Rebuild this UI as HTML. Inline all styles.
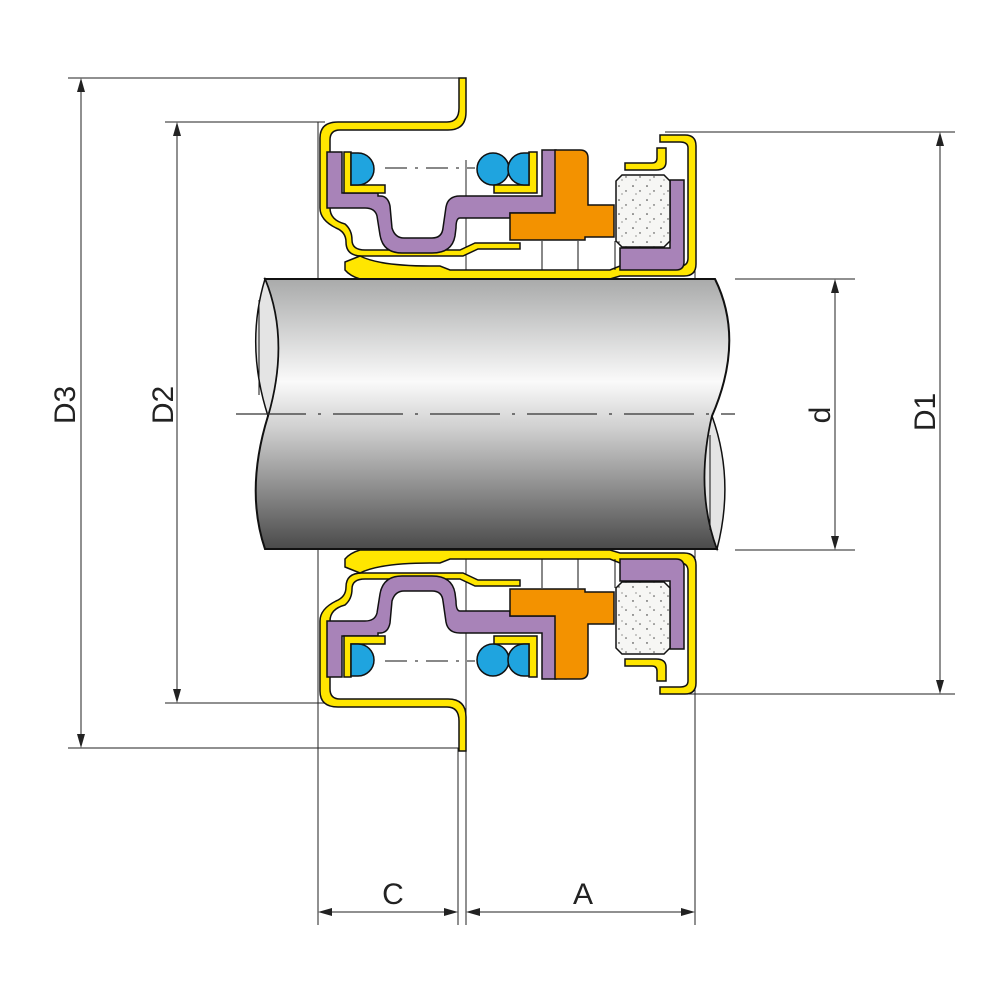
<!DOCTYPE html>
<html><head><meta charset="utf-8"><style>html,body{margin:0;padding:0;background:#fff}svg{display:block}</style></head>
<body>
<svg width="1000" height="1000" viewBox="0 0 1000 1000" xmlns="http://www.w3.org/2000/svg">
<defs>
<linearGradient id="sh" x1="0" y1="0" x2="0" y2="1">
<stop offset="0" stop-color="#a9aaaa"/>
<stop offset="0.38" stop-color="#fafafa"/>
<stop offset="0.55" stop-color="#d0d0d0"/>
<stop offset="1" stop-color="#4a4a4a"/>
</linearGradient>
<pattern id="dots" width="14" height="14" patternUnits="userSpaceOnUse">
<rect width="14" height="14" fill="#f6f6f4"/>
<circle cx="3" cy="4" r="0.8" fill="#333"/><circle cx="10" cy="9" r="0.7" fill="#333"/><circle cx="6" cy="12" r="0.6" fill="#555"/>
</pattern>
<g id="half" stroke="#111" stroke-width="1.5">
<!-- gland yellow -->
<path d="M459 78 L466 78 L466 112 Q466 130 448 130 L340 130 Q330 130 330 140 L330 208 Q330 220 345 224 Q352 230 352 240 Q352 250 365 250 L460 250 L475 243 L520 243 L520 249 L478 249 L463 256 L362 256 Q346 256 346 242 Q346 232 336 228 Q320 220 320 208 L320 138 Q320 122 338 122 L447 122 Q459 122 459 108 Z" fill="#ffe600"/>
<!-- inner sleeve yellow -->
<path d="M345 262 L360 256 Q380 266 430 266 L440 266 L450 270 L610 270 L620 266 L680 266 Q688 266 688 258 L688 148 Q688 142 680 142 L660 142 L660 135 L685 135 Q696 135 696 146 L696 264 Q696 276 684 276 L620 276 L610 279 L360 279 Q350 276 345 270 Z" fill="#ffe600"/>
<!-- purple -->
<path d="M327 152 L342 152 L342 193 L378 193 L378 196 L380 196 Q388 196 390 206 L392 228 Q395 238 404 238 L432 238 Q442 238 443 228 L446 207 Q448 196 460 196 L542 196 L542 150 L556 150 L556 213 L510 213 L510 218 L460 218 Q456 218 456 228 L455 236 Q452 253 432 253 L402 253 Q383 253 380 235 L377 216 Q375 208 365 208 L327 208 Z" fill="#a883b8"/>
<path d="M620 270 L620 248 L670 248 L670 180 L684 180 L684 262 Q684 270 676 270 Z" fill="#a883b8"/>
<!-- small yellow cups -->
<path d="M344 152 L351 152 L351 185 L385 185 L385 193 L344 193 Z" fill="#ffe600"/>
<path d="M494 185 L529 185 L529 152 L537 152 L537 193 L494 193 Z" fill="#ffe600"/>
<!-- blue o-rings -->
<path d="M351 153 L358 153 A16 16 0 0 1 358 185 L351 185 Z" fill="#1fa4df"/>
<circle cx="493" cy="169" r="16" fill="#1fa4df"/>
<path d="M529 153 L524 153 A16 16 0 0 0 524 185 L529 185 Z" fill="#1fa4df"/>
<line x1="385" y1="168" x2="475" y2="168" stroke-dasharray="22 8 3 8" stroke-width="1"/>
<!-- orange -->
<path d="M555 150 L580 150 Q588 150 588 158 L588 205 L614 205 L614 237 L585 237 L585 240 L510 240 L510 213 L555 213 Z" fill="#f39200"/>
<!-- stone -->
<path d="M622 175 L664 175 L670 181 L670 241 L664 247 L622 247 L616 241 L616 181 Z" fill="url(#dots)"/>
<!-- face yellow -->
<path d="M625 163 L652 163 Q657 163 657 158 L657 148 L666 148 L666 162 Q666 170 656 170 L625 170 Z" fill="#ffe600"/>
<line x1="542" y1="241" x2="542" y2="270" stroke-width="1"/>
<line x1="578" y1="241" x2="578" y2="270" stroke-width="1"/>
<line x1="615" y1="241" x2="615" y2="270" stroke-width="1"/>
</g>
</defs>

<!-- dimension/extension lines -->
<g stroke="#222" stroke-width="1" fill="none">
<line x1="68" y1="78" x2="460" y2="78"/>
<line x1="68" y1="748" x2="460" y2="748"/>
<line x1="165" y1="122" x2="325" y2="122"/>
<line x1="165" y1="703" x2="325" y2="703"/>
<line x1="665" y1="132" x2="955" y2="132"/>
<line x1="665" y1="694" x2="955" y2="694"/>
<line x1="735" y1="279" x2="855" y2="279"/>
<line x1="735" y1="550" x2="855" y2="550"/>
<line x1="81" y1="80" x2="81" y2="746"/>
<line x1="177" y1="124" x2="177" y2="701"/>
<line x1="835" y1="281" x2="835" y2="548"/>
<line x1="940" y1="134" x2="940" y2="692"/>
<line x1="318" y1="122" x2="318" y2="925"/>
<line x1="458" y1="748" x2="458" y2="925"/>
<line x1="466" y1="160" x2="466" y2="925"/>
<line x1="695" y1="140" x2="695" y2="925"/>
<line x1="320" y1="912" x2="456" y2="912"/>
<line x1="468" y1="912" x2="693" y2="912"/>
</g>
<g fill="#222">
<path d="M81 78 l-4 14 l8 0 z"/><path d="M81 748 l-4 -14 l8 0 z"/>
<path d="M177 122 l-4 14 l8 0 z"/><path d="M177 703 l-4 -14 l8 0 z"/>
<path d="M835 279 l-4 14 l8 0 z"/><path d="M835 550 l-4 -14 l8 0 z"/>
<path d="M940 132 l-4 14 l8 0 z"/><path d="M940 694 l-4 -14 l8 0 z"/>
<path d="M318 912 l14 -4 l0 8 z"/><path d="M458 912 l-14 -4 l0 8 z"/>
<path d="M466 912 l14 -4 l0 8 z"/><path d="M695 912 l-14 -4 l0 8 z"/>
</g>

<use href="#half"/>
<g transform="translate(0,829) scale(1,-1)"><use href="#half"/></g>

<!-- shaft -->
<path d="M265 279 L715 279 Q745 340 712 416 Q695 490 717 549 L265 549 Q245 490 268 416 Q290 340 265 279 Z" fill="url(#sh)" stroke="#111" stroke-width="2"/>
<path d="M265 279 Q245 345 268 416 Q290 340 265 279 Z" fill="#e4e4e4" stroke="#111" stroke-width="1.5"/>
<line x1="259" y1="300" x2="259" y2="395" stroke="#111" stroke-width="1"/>
<path d="M712 416 Q735 480 717 549 Q695 490 712 416 Z" fill="#e4e4e4" stroke="#111" stroke-width="1.5"/>
<line x1="710" y1="435" x2="710" y2="530" stroke="#111" stroke-width="1"/>
<line x1="236" y1="414" x2="735" y2="414" stroke="#333" stroke-width="1.2" stroke-dasharray="70 12 3 12"/>

<g font-family="Liberation Sans, sans-serif" font-size="30" fill="#222" text-anchor="middle">
<text transform="translate(75,405) rotate(-90)">D3</text>
<text transform="translate(173,405) rotate(-90)">D2</text>
<text transform="translate(830,415) rotate(-90)">d</text>
<text transform="translate(935,412) rotate(-90)">D1</text>
<text x="393" y="904">C</text>
<text x="583" y="904">A</text>
</g>
</svg>
</body></html>
